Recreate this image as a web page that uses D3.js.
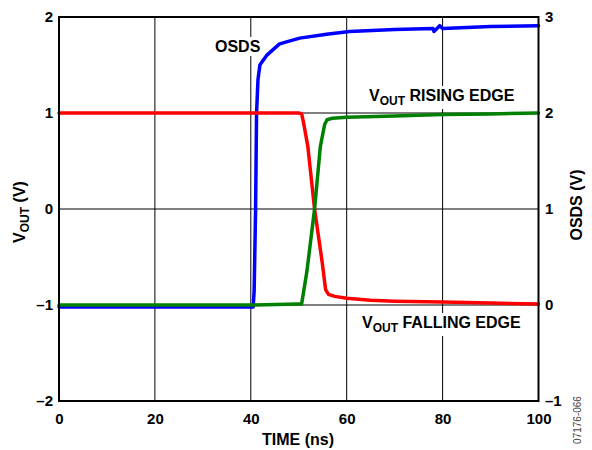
<!DOCTYPE html>
<html>
<head>
<meta charset="utf-8">
<script src="https://cdn.jsdelivr.net/npm/d3@7"></script>
<style>
  body { margin: 0; background: #fff; }
  text { font-family: "Liberation Sans", Arial, sans-serif; }
</style>
</head>
<body>
<svg id="contenedor"></svg>
<script>
// datos (tiempo en ns)
let ticksTiempo = [0, 20, 40, 60, 80, 100];
let ticksVout = [-2, -1, 0, 1, 2];
let ticksOsds = [-1, 0, 1, 2, 3];

// V_OUT flanco de bajada (eje izquierdo)
let tiempoBajada = [0, 10, 20, 30, 40, 50, 50.6, 51.0, 51.9, 53.3, 54.9, 55.6, 56.2, 57.5, 60, 65, 70, 80, 90, 100];
let voutBajada = [1, 1, 1, 1, 1, 1, 0.99, 0.9, 0.65, 0.0, -0.56, -0.84, -0.89, -0.91, -0.93, -0.95, -0.96, -0.97, -0.98, -0.99];

// V_OUT flanco de subida (eje izquierdo)
let tiempoSubida = [0, 10, 20, 30, 40, 50, 50.6, 51.7, 53.3, 54.5, 55.4, 55.9, 57, 60, 70, 80, 90, 100];
let voutSubida = [-1, -1, -1, -1, -1, -0.99, -0.99, -0.65, 0.0, 0.65, 0.88, 0.93, 0.945, 0.955, 0.97, 0.985, 0.99, 1.0];

// OSDS (eje derecho)
let tiempoOsds = [0, 10, 20, 30, 40, 40.5, 40.7, 41.0, 41.2, 41.5, 41.9, 42.3, 43.3, 46, 50.2, 55.8, 60.6, 70, 78, 78.2, 79.4, 80, 90, 100];
let valorOsds = [-0.02, -0.02, -0.02, -0.02, -0.02, -0.02, 0.15, 1.0, 2.0, 2.35, 2.5, 2.53, 2.6, 2.72, 2.78, 2.82, 2.85, 2.87, 2.88, 2.85, 2.91, 2.88, 2.9, 2.91];

// configuracion del area
function getConfig() {
  let width = 592;
  let height = 450;
  let margin = { top: 17, bottom: 49, left: 59, right: 53.5 };
  let bodyWidth = width - margin.left - margin.right;
  let bodyHeight = height - margin.top - margin.bottom;
  let container = d3.select("#contenedor").attr("width", width).attr("height", height);
  return { width, height, margin, bodyWidth, bodyHeight, container };
}

function getScales(config) {
  let { margin, bodyWidth, bodyHeight } = config;
  let xScale = d3.scaleLinear().domain([0, 100]).range([margin.left, margin.left + bodyWidth]);
  let yIzq = d3.scaleLinear().domain([-2, 2]).range([margin.top + bodyHeight, margin.top]);
  let yDer = d3.scaleLinear().domain([-1, 3]).range([margin.top + bodyHeight, margin.top]);
  return { xScale, yIzq, yDer };
}

let formato = (d) => (d < 0 ? "\u2013" + Math.abs(d) : "" + d);

// rejilla
function dibujarRejilla(scales, config) {
  let { xScale, yIzq } = scales;
  let { container } = config;
  let g = container.append("g");
  g.selectAll(".vx").data(ticksTiempo.slice(1, -1)).enter().append("line")
    .attr("x1", (d) => xScale(d)).attr("x2", (d) => xScale(d))
    .attr("y1", yIzq(-2)).attr("y2", yIzq(2))
    .attr("stroke", "#000").attr("stroke-width", 1);
  g.selectAll(".hy").data(ticksVout.slice(1, -1)).enter().append("line")
    .attr("x1", xScale(0)).attr("x2", xScale(100))
    .attr("y1", (d) => yIzq(d)).attr("y2", (d) => yIzq(d))
    .attr("stroke", "#000").attr("stroke-width", 1);
}

// etiqueta con fondo blanco y subindice opcional
function etiqueta(container, x, y, partes) {
  let t = container.append("text")
    .attr("x", x).attr("y", y)
    .attr("font-size", "16px").attr("font-weight", "bold").attr("fill", "#000");
  partes.forEach((p) => {
    let ts = t.append("tspan").text(p.txt);
    if (p.sub) ts.attr("font-size", "12px").attr("dy", 4);
    if (p.back) ts.attr("dy", -4);
  });
  let box = t.node().getBBox();
  container.insert("rect", function () { return t.node(); })
    .attr("x", box.x - 3).attr("y", box.y - 1)
    .attr("width", box.width + 6).attr("height", box.height + 2)
    .attr("fill", "#fff");
}

function dibujarEtiquetas(config) {
  let { container } = config;
  let g = container.append("g");
  etiqueta(g, 215, 52, [{ txt: "OSDS" }]);
  etiqueta(g, 369, 101, [{ txt: "V" }, { txt: "OUT", sub: true }, { txt: " RISING EDGE", back: true }]);
  etiqueta(g, 362, 328, [{ txt: "V" }, { txt: "OUT", sub: true }, { txt: " FALLING EDGE", back: true }]);
}

// lineas de datos
function dibujarLineas(scales, config) {
  let { xScale, yIzq, yDer } = scales;
  let { container } = config;
  let serie = (ts, vs, y, color) => {
    let puntos = ts.map((t, i) => [t, vs[i]]);
    let linea = d3.line().x((d) => xScale(d[0])).y((d) => y(d[1]));
    container.append("path").datum(puntos)
      .attr("d", linea).attr("fill", "none")
      .attr("stroke", color).attr("stroke-width", 3.5)
      .attr("stroke-linejoin", "round").attr("stroke-linecap", "round");
  };
  serie(tiempoOsds, valorOsds, yDer, "#0000ff");
  serie(tiempoBajada, voutBajada, yIzq, "#ff0000");
  serie(tiempoSubida, voutSubida, yIzq, "#008000");
}

// ejes
function dibujarEjes(scales, config) {
  let { xScale, yIzq, yDer } = scales;
  let { container, margin, bodyWidth, bodyHeight } = config;

  container.append("rect")
    .attr("x", margin.left).attr("y", margin.top)
    .attr("width", bodyWidth).attr("height", bodyHeight)
    .attr("fill", "none").attr("stroke", "#000").attr("stroke-width", 2);

  let estilo = (g) => {
    g.select(".domain").remove();
    g.selectAll("text").attr("font-size", "15px").attr("font-weight", "bold")
      .attr("font-family", '"Liberation Sans", Arial, sans-serif').attr("fill", "#000");
  };

  container.append("g")
    .attr("transform", `translate(0, ${margin.top + bodyHeight})`)
    .call(d3.axisBottom(xScale).tickValues(ticksTiempo).tickSize(0).tickPadding(12).tickFormat(formato))
    .call(estilo);
  container.append("g")
    .attr("transform", `translate(${margin.left}, 0)`)
    .call(d3.axisLeft(yIzq).tickValues(ticksVout).tickSize(0).tickPadding(6).tickFormat(formato))
    .call(estilo);
  container.append("g")
    .attr("transform", `translate(${margin.left + bodyWidth}, 0)`)
    .call(d3.axisRight(yDer).tickValues(ticksOsds).tickSize(0).tickPadding(6.5).tickFormat(formato))
    .call(estilo);

  // titulos
  container.append("text")
    .attr("x", 298).attr("y", 445).attr("text-anchor", "middle")
    .attr("font-size", "16px").attr("font-weight", "bold")
    .text("TIME (ns)");

  let tituloIzq = container.append("text")
    .attr("transform", "translate(25, 212) rotate(-90)")
    .attr("text-anchor", "middle")
    .attr("font-size", "16px").attr("font-weight", "bold");
  tituloIzq.append("tspan").text("V");
  tituloIzq.append("tspan").text("OUT").attr("font-size", "12px").attr("dy", 4);
  tituloIzq.append("tspan").text(" (V)").attr("dy", -4);

  container.append("text")
    .attr("transform", "translate(582, 205) rotate(-90)")
    .attr("text-anchor", "middle")
    .attr("font-size", "16px").attr("font-weight", "bold")
    .text("OSDS (V)");

  container.append("text")
    .attr("transform", "translate(581, 420) rotate(-90)")
    .attr("text-anchor", "middle")
    .attr("font-size", "10px").attr("fill", "#444")
    .text("07176-066");
}

function dibujarChart() {
  let config = getConfig();
  let scales = getScales(config);
  dibujarRejilla(scales, config);
  dibujarEtiquetas(config);
  dibujarLineas(scales, config);
  dibujarEjes(scales, config);
}

dibujarChart();
</script>
</body>
</html>
